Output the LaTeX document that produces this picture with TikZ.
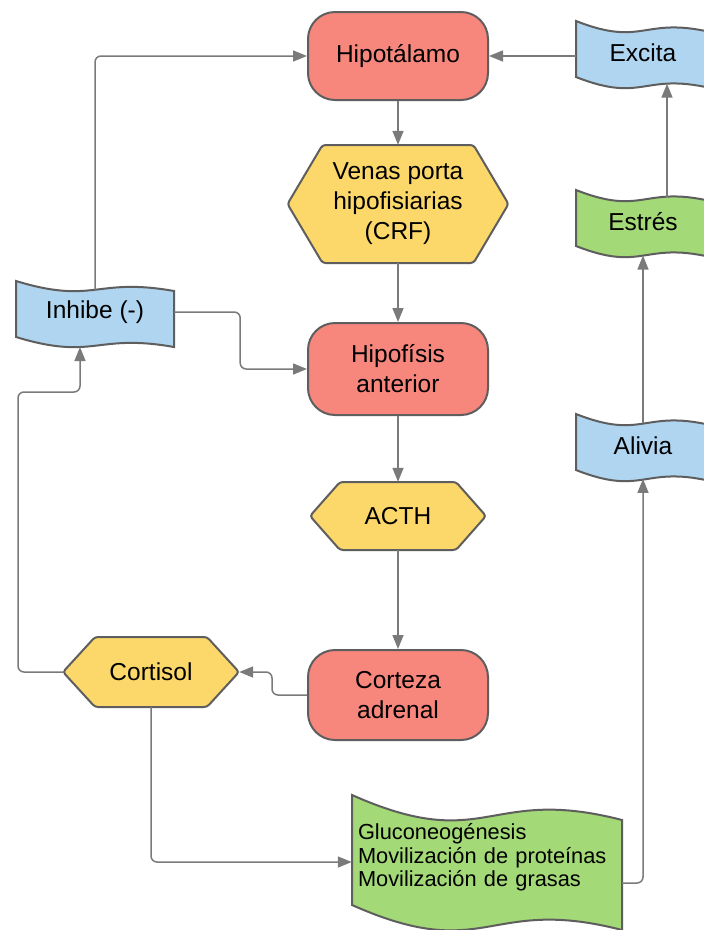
\documentclass[tikz,border=0pt]{standalone}
\usepackage{fontspec}
\setmainfont{Liberation Sans}
\usetikzlibrary{arrows.meta,calc}
\definecolor{salmon}{HTML}{F7867D}
\definecolor{hexfill}{HTML}{FCD86A}
\definecolor{wblue}{HTML}{B0D5F0}
\definecolor{wgreen}{HTML}{A3D977}
\definecolor{edgegray}{HTML}{5E5E5E}
\definecolor{linegray}{HTML}{7A7A7A}
\newcommand\mainfs{\fontsize{24.5pt}{30pt}\selectfont}
\newcommand\greenfs{\fontsize{21.8pt}{23.5pt}\selectfont}
\tikzset{
  shapeline/.style={draw=edgegray, line width=2pt},
  txt/.style={align=center, font=\mainfs, inner sep=0pt, text=black},
  proc/.style={shapeline, fill=salmon, rounded corners=27pt, minimum width=180pt, minimum height=88pt, align=center, font=\mainfs, inner sep=0pt},
  arr/.style={draw=linegray, line width=1.5pt, rounded corners=6pt, -{Triangle[length=14pt,width=11pt]}},
}
% hexagon: name, cx, cy, w, h, inset, text
\newcommand\hexbox[7]{%
  \draw[shapeline, fill=hexfill, rounded corners=3pt]
    ({#2-#4/2},#3) -- ({#2-#4/2+#6},{#3-#5/2}) -- ({#2+#4/2-#6},{#3-#5/2}) --
    ({#2+#4/2},#3) -- ({#2+#4/2-#6},{#3+#5/2}) -- ({#2-#4/2+#6},{#3+#5/2}) -- cycle;
  \node[txt, minimum width=#4 pt, minimum height=#5 pt] (#1) at (#2,#3) {#7};
}
% wave: name, x0, y0, w, h, d, fill, text, extra options
\newcommand\wavebox[9]{%
  \draw[shapeline, fill=#7]
    (#2,#3) .. controls ({#2+0.5*#4},{#3+2.4*#6}) and ({#2+0.5*#4},{#3-0.4*#6}) .. ({#2+#4},{#3+#6})
    -- ({#2+#4},{#3+#5+#6})
    .. controls ({#2+0.5*#4},{#3+#5-0.4*#6}) and ({#2+0.5*#4},{#3+#5+2.4*#6}) .. (#2,{#3+#5}) -- cycle;
  \node[txt, minimum width=#4 pt, minimum height=#5 pt, #9] (#1) at ({#2+0.5*#4},{#3+0.5*#5+0.3*#6}) {#8};
}
\begin{document}
\begin{tikzpicture}[x=1pt, y=-1pt]
\path[use as bounding box, fill=white] (0,0) rectangle (704,930);
\clip (0,0) rectangle (704,930);

% process boxes
\node[proc] (hyp) at (398,56) {Hipotálamo};
\node[proc, minimum height=92pt] (hfa) at (398,369) {Hipofísis\\anterior};
\node[proc, minimum height=90pt] (cza) at (398,695) {Corteza\\adrenal};

% hexagons
\hexbox{ven}{398}{204}{221}{118}{35}{Venas porta\\hipofisiarias\\(CRF)}
\hexbox{acth}{398}{516}{176}{68}{30}{ACTH}
\hexbox{ctl}{151}{672}{176}{70}{32}{Cortisol}

% wave shapes
\wavebox{inh}{16}{281}{158}{56}{10}{wblue}{Inhibe (-)}{}
\wavebox{exc}{576}{21}{134}{56}{11}{wblue}{Excita}{}
\wavebox{est}{576}{190}{134}{56}{11}{wgreen}{Estrés}{}
\wavebox{ali}{576}{414}{134}{56}{11}{wblue}{Alivia}{}
\wavebox{grn}{352}{795}{270}{110}{25}{wgreen}{Gluconeogénesis\\Movilización de proteínas\\Movilización de grasas}{align=left, text width=258pt, font=\greenfs}

% connectors
\draw[arr] (hyp.south) -- (ven.north);
\draw[arr] (ven.south) -- (hfa.north);
\draw[arr] (hfa.south) -- (acth.north);
\draw[arr] (acth.south) -- (cza.north);
\draw[arr] (cza.west) -- ++(-35,0) |- (ctl.east);
\coordinate (k1) at (18,392);
\draw[arr] (ctl.west) -| (k1) -| ($(inh.center)+(-15,35)$);
\draw[arr] ($(inh.center)+(0,-22.25)$) |- (hyp.west);
\draw[arr] (inh.east) -- ++(66,0) |- (hfa.west);
\draw[arr] (ctl.south) |- ($(grn.west)+(0,4.5)$);
\draw[arr] ($(grn.center)+(135,25.5)$) -| ($(ali.center)+(0,33.6)$);
\draw[arr] ($(ali.center)+(0,-22.4)$) -- ($(est.center)+(0,34.3)$);
\draw[arr] ($(est.center)+(24,-24.6)$) -- ($(exc.center)+(24,31.4)$);
\draw[arr] (exc.west |- hyp.east) -- (hyp.east);
\end{tikzpicture}
\end{document}
